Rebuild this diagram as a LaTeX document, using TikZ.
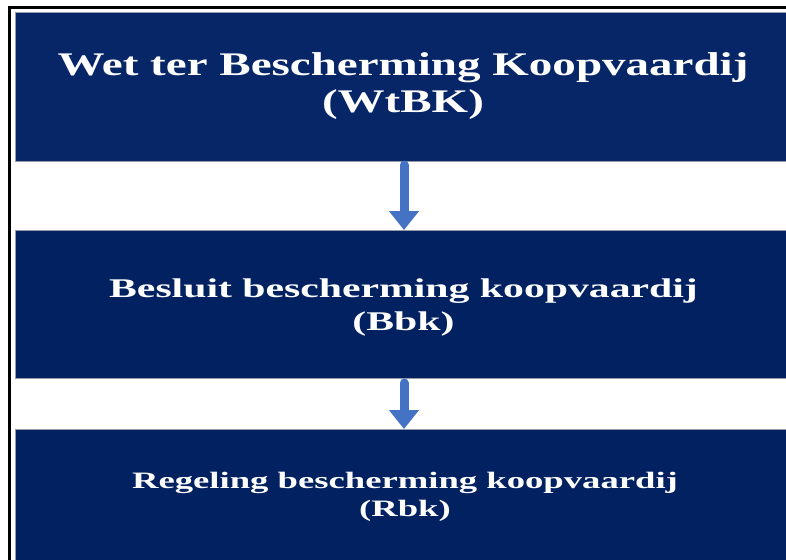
\documentclass[tikz,border=0pt]{standalone}
\usepackage{fontspec}
\setmainfont{Liberation Serif}
\usetikzlibrary{arrows.meta}
\definecolor{navy}{RGB}{2,33,96}
\definecolor{navyA}{RGB}{7,38,104}
\definecolor{arrowblue}{RGB}{68,114,196}
\definecolor{edgegray}{RGB}{150,155,170}
\tikzset{
  lvlbox/.style={fill=navy, draw=edgegray, line width=0.8pt},
  lvltext/.style={text=white, font=\bfseries, align=center, inner sep=0pt, transform shape},
  flowarrow/.style={draw=arrowblue, line width=9pt, line cap=round,
    -{Triangle[width=29pt,length=19pt]}}
}
\begin{document}
\begin{tikzpicture}[x=1pt,y=-1pt]
\useasboundingbox (0,0) rectangle (786,559);
\fill[white] (0,0) rectangle (786,559);
% outer frame
\draw[black, line width=3pt] (9.5,600) -- (9.5,7.5) -- (800,7.5);
% boxes
\path[lvlbox, fill=navyA] (15,12) rectangle (800,161);
\path[lvlbox] (15,230) rectangle (800,378);
\path[lvlbox] (15,429) rectangle (800,600);
% texts
\node[lvltext, font=\bfseries\fontsize{33}{37}\selectfont, xscale=1.425] (t1) at (403,86) {Wet ter Bescherming Koopvaardij\\(WtBK)};
\node[lvltext, font=\bfseries\fontsize{27}{33}\selectfont, xscale=1.545] (t2) at (403.5,308) {Besluit bescherming koopvaardij\\(Bbk)};
\node[lvltext, font=\bfseries\fontsize{23.5}{28}\selectfont, xscale=1.56] (t3) at (405,497) {Regeling bescherming koopvaardij\\(Rbk)};
% arrows
\coordinate (a1s) at (404,165);
\coordinate (a1e) at (404,230);
\coordinate (a2s) at (404,383);
\coordinate (a2e) at (404,429);
\draw[flowarrow] (a1s) -- (a1e);
\draw[flowarrow] (a2s) -- (a2e);
\end{tikzpicture}
\end{document}
